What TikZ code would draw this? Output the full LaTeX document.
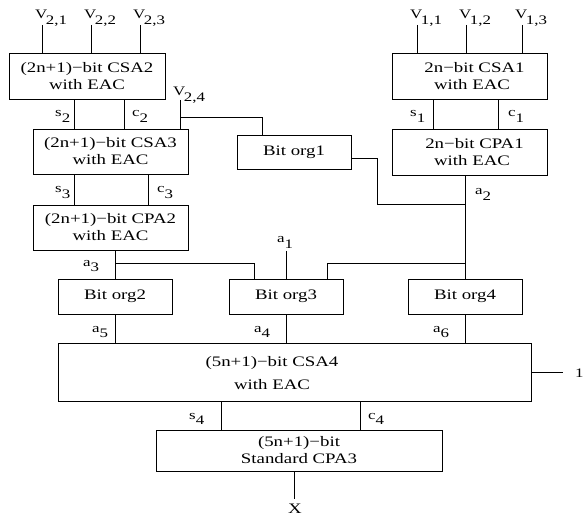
\documentclass[tikz,border=0pt]{standalone}
\usepackage{fontspec}
\setmainfont[FakeStretch=1.3]{Liberation Serif}
\newcommand\boxfont{\fontsize{14.5}{17}\selectfont}
\newcommand\lblfont{\fontsize{13}{15}\selectfont}
\newcommand\sbs[1]{\raisebox{-0.42em}{#1}}
\begin{document}
\begin{tikzpicture}[x=1pt,y=-1pt,
  box/.style={draw, line width=0.8pt, inner sep=0pt, align=center, font=\boxfont},
  lbl/.style={inner sep=0pt, font=\lblfont, anchor=base west},
  wire/.style={line width=0.8pt}]
\useasboundingbox (0,0) rectangle (586,521);
% boxes
\node[box, minimum width=156pt, minimum height=46pt] (csa2) at (87,76) {(2n+1)−bit CSA2\\with EAC};
\node[box, minimum width=155pt, minimum height=45pt] (csa3) at (110.5,151.5) {(2n+1)−bit CSA3\\with EAC};
\node[box, minimum width=155pt, minimum height=45pt] (cpa2) at (110.5,227.5) {(2n+1)−bit CPA2\\with EAC};
\node[box, minimum width=114pt, minimum height=34pt] (borg1) at (294,152) {Bit org1};
\node[box, minimum width=155pt, minimum height=46pt] (csa1) at (469.5,76) {\hspace*{10pt}2n−bit CSA1\\\hspace*{5pt}with EAC};
\node[box, minimum width=155pt, minimum height=46pt] (cpa1) at (469.5,152) {\hspace*{10pt}2n−bit CPA1\\\hspace*{5pt}with EAC};
\node[box, minimum width=114pt, minimum height=35pt] (borg2) at (115,296.5) {Bit org2};
\node[box, minimum width=114pt, minimum height=35pt] (borg3) at (286,296.5) {Bit org3};
\node[box, minimum width=114pt, minimum height=35pt] (borg4) at (465,296.5) {Bit org4};
\node[box, minimum width=473pt, minimum height=58pt] (csa4) at (294.5,372) {};
\node[inner sep=0pt, align=center, font=\fontsize{14.5}{23}\selectfont] (csa4t) at (272,373.5) {(5n+1)−bit CSA4\\with EAC};
\node[box, minimum width=286pt, minimum height=41pt] (cpa3) at (299,450.5) {(5n+1)−bit\\Standard CPA3};
% free ends
\coordinate (v21) at (42,25);
\coordinate (v22) at (91,25);
\coordinate (v23) at (140,25);
\coordinate (v24) at (180,100);
\coordinate (v11) at (417,25);
\coordinate (v12) at (466,25);
\coordinate (v13) at (522,25);
\coordinate (a1) at (286,251);
\coordinate (one) at (563,372);
\coordinate (xout) at (294,499);
% connectors
\draw[wire] (v21) -- (v21 |- csa2.north);
\draw[wire] (v22) -- (v22 |- csa2.north);
\draw[wire] (v23) -- (v23 |- csa2.north);
\draw[wire] (74,0 |- csa2.south) -- (74,0 |- csa3.north);
\draw[wire] (124,0 |- csa2.south) -- (124,0 |- csa3.north);
\draw[wire] (v24) -- (v24 |- csa3.north);
\draw[wire] (v24 |- 0,117) -- (262,117) -- (262,0 |- borg1.north);
\draw[wire] (74,0 |- csa3.south) -- (74,0 |- cpa2.north);
\draw[wire] (148,0 |- csa3.south) -- (148,0 |- cpa2.north);
\draw[wire] (v11) -- (v11 |- csa1.north);
\draw[wire] (v12) -- (v12 |- csa1.north);
\draw[wire] (v13) -- (v13 |- csa1.north);
\draw[wire] (433,0 |- csa1.south) -- (433,0 |- cpa1.north);
\draw[wire] (498,0 |- csa1.south) -- (498,0 |- cpa1.north);
\draw[wire] (465,0 |- cpa1.south) -- (borg4.north);
\draw[wire] (borg1.east |- 0,158) -- (377,158) -- (377,204) -- (465,204);
\draw[wire] (borg2.north |- cpa2.south) -- (borg2.north);
\draw[wire] (115,263) -- (254,263) -- (254,0 |- borg3.north);
\draw[wire] (a1) -- (a1 |- borg3.north);
\draw[wire] (465,263) -- (327,263) -- (327,0 |- borg3.north);
\draw[wire] (borg2.south) -- (borg2.south |- csa4.north);
\draw[wire] (borg3.south) -- (borg3.south |- csa4.north);
\draw[wire] (borg4.south) -- (borg4.south |- csa4.north);
\draw[wire] (csa4.east) -- (one);
\draw[wire] (221,0 |- csa4.south) -- (221,0 |- cpa3.north);
\draw[wire] (360,0 |- csa4.south) -- (360,0 |- cpa3.north);
\draw[wire] (xout |- cpa3.south) -- (xout);
% labels
\node[lbl] (lv21) at (35,19) {V\kern-1.5pt\sbs{2,1}};
\node[lbl] (lv22) at (84,19) {V\kern-1.5pt\sbs{2,2}};
\node[lbl] (lv23) at (133,19) {V\kern-1.5pt\sbs{2,3}};
\node[lbl] (lv24) at (173,96) {V\kern-1.5pt\sbs{2,4}};
\node[lbl] (lv11) at (410,19) {V\kern-1.5pt\sbs{1,1}};
\node[lbl] (lv12) at (459,19) {V\kern-1.5pt\sbs{1,2}};
\node[lbl] (lv13) at (515,19) {V\kern-1.5pt\sbs{1,3}};
\node[lbl] (ls2) at (55,117) {s\sbs{2}};
\node[lbl] (lc2) at (132,117) {c\sbs{2}};
\node[lbl] (ls3) at (55,193) {s\sbs{3}};
\node[lbl] (lc3) at (157,193) {c\sbs{3}};
\node[lbl] (ls1) at (410,117) {s\sbs{1}};
\node[lbl] (lc1) at (508,117) {c\sbs{1}};
\node[lbl] (la2) at (475,195) {a\sbs{2}};
\node[lbl] (la3) at (83,266) {a\sbs{3}};
\node[lbl] (la1) at (277,243) {a\sbs{1}};
\node[lbl] (la5) at (92,332) {a\sbs{5}};
\node[lbl] (la4) at (254,332) {a\sbs{4}};
\node[lbl] (la6) at (433,332) {a\sbs{6}};
\node[lbl] (ls4) at (189,419) {s\sbs{4}};
\node[lbl] (lc4) at (368,419) {c\sbs{4}};
\node[lbl] (lone) at (575,377) {1};
\node[lbl, anchor=base, font=\boxfont] (lx) at (295,513) {X};
\end{tikzpicture}
\end{document}
